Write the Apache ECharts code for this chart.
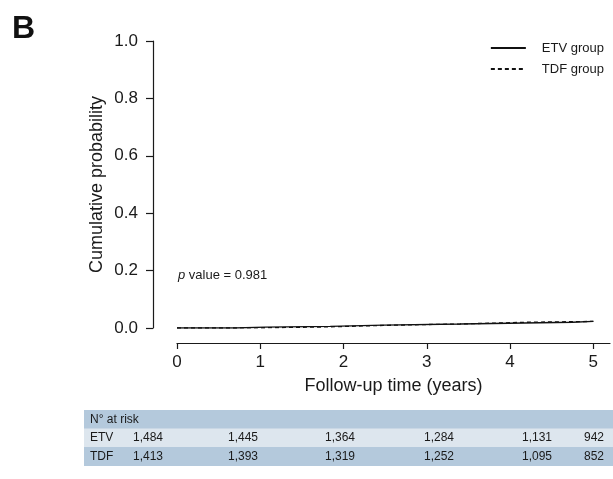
<!DOCTYPE html>
<html>
<head>
<meta charset="utf-8">
<script src="https://cdn.jsdelivr.net/npm/echarts@6/dist/echarts.min.js"></script>
<style>
  html, body { margin: 0; padding: 0; background: #fff; }
  #chart { width: 613px; height: 479px; }
</style>
</head>
<body>
<div id="chart"></div>
<script>
// Kaplan-Meier style cumulative incidence, ETV vs TDF
const yearTicks = [0, 1, 2, 3, 4, 5];
const probTicks = [0, 0.2, 0.4, 0.6, 0.8, 1.0];

const etvTime = [0, 0.70, 1.06, 1.84, 2.48, 3.40, 4.75, 5.0];
const etvCum  = [0, 0.003, 0.006, 0.010, 0.014, 0.020, 0.023, 0.023];

const tdfTime = [0, 0.72, 1.10, 1.84, 2.48, 3.00, 3.40, 4.20, 5.0];
const tdfCum  = [0, 0.001, 0.004, 0.009, 0.012, 0.014, 0.020, 0.023, 0.023];

const seriesNames = ['ETV group', 'TDF group'];
const pValueText = '0.981';

// Numbers at risk table
const riskHeader = 'N° at risk';
const riskRowLabels = ['ETV', 'TDF'];
const riskETV = [1484, 1445, 1364, 1284, 1131, 942];
const riskTDF = [1413, 1393, 1319, 1252, 1095, 852];

const FONT = 'Liberation Sans, Arial, Helvetica, sans-serif';
const INK = '#1a1a1a';

const chart = echarts.init(document.getElementById('chart'), null, { renderer: 'canvas' });

const toPairs = (ts, vs) => ts.map((t, i) => [t, vs[i]]);
const fmt = n => n.toLocaleString('en-US');

// table graphics
const tableLeft = 84, tableRight = 613, rowTop = 410, rowH = 18.5;
const rowFills = ['#b4c9dc', '#dde6ee', '#b4c9dc'];
const colX = [133, 228, 325, 424, 522, 604];
const tableGraphics = [];
rowFills.forEach((c, r) => {
  tableGraphics.push({
    type: 'rect', silent: true,
    shape: { x: tableLeft, y: rowTop + r * rowH, width: tableRight - tableLeft, height: rowH + 0.5 },
    style: { fill: c }
  });
});
const cellText = (txt, x, y, align) => ({
  type: 'text', silent: true, x: x, y: y,
  style: { text: txt, font: '12px ' + FONT, fill: INK, align: align || 'left', verticalAlign: 'middle' }
});
tableGraphics.push(cellText(riskHeader, 90, rowTop + rowH / 2));
[riskETV, riskTDF].forEach((vals, r) => {
  const yc = rowTop + (r + 1) * rowH + rowH / 2;
  tableGraphics.push(cellText(riskRowLabels[r], 90, yc));
  vals.forEach((v, i) => {
    const last = i === vals.length - 1;
    tableGraphics.push(cellText(fmt(v), colX[i], yc, last ? 'right' : 'left'));
  });
});

const axisLineStyle = { color: INK, width: 1.2 };

chart.setOption({
  backgroundColor: '#fff',
  animation: false,
  title: {
    text: 'B', left: 12, top: 13, padding: 0,
    textStyle: { fontFamily: FONT, fontSize: 32, fontWeight: 'bold', color: '#111' }
  },
  legend: {
    orient: 'vertical', right: 9, top: 41, padding: 0,
    itemWidth: 35, itemHeight: 14, itemGap: 7,
    align: 'left',
    itemStyle: { opacity: 0 },
    textStyle: { fontFamily: FONT, fontSize: 13, lineHeight: 14, color: INK, padding: [0, 0, 0, 11] },
    data: seriesNames
  },
  grid: { left: 177, right: 3, top: 41, bottom: 151, containLabel: false },
  xAxis: {
    type: 'value', min: 0, max: 5.2, offset: 15,
    axisLine: { show: true, onZero: false, lineStyle: axisLineStyle },
    axisTick: { show: true, customValues: yearTicks, length: 6, lineStyle: axisLineStyle },
    axisLabel: { customValues: yearTicks, fontFamily: FONT, fontSize: 17, color: INK, margin: 11 },
    splitLine: { show: false },
    name: 'Follow-up time (years)', nameLocation: 'middle', nameGap: 34,
    nameTextStyle: { fontFamily: FONT, fontSize: 18, color: INK }
  },
  yAxis: {
    type: 'value', min: 0, max: 1, interval: 0.2, offset: 24,
    axisLine: { show: true, onZero: false, lineStyle: axisLineStyle },
    axisTick: { show: true, length: 7, lineStyle: axisLineStyle },
    axisLabel: { formatter: v => v.toFixed(1), fontFamily: FONT, fontSize: 17, color: INK, margin: 15 },
    splitLine: { show: false },
    name: 'Cumulative probability', nameLocation: 'middle', nameGap: 47,
    nameMoveOverlap: false,
    nameTextStyle: { fontFamily: FONT, fontSize: 18, color: INK }
  },
  series: [
    {
      name: seriesNames[0], type: 'line', step: 'end', symbol: 'none',
      data: toPairs(etvTime, etvCum),
      lineStyle: { color: '#111', width: 1.3, type: 'solid' },
      itemStyle: { color: '#111' }, z: 3
    },
    {
      name: seriesNames[1], type: 'line', step: 'end', symbol: 'none',
      data: toPairs(tdfTime, tdfCum),
      lineStyle: { color: '#111', width: 1.3, type: [4, 3] },
      itemStyle: { color: '#111' }, z: 2
    }
  ],
  graphic: [
    {
      type: 'text', silent: true, x: 178, y: 275,
      style: {
        text: '{i|p} value = ' + pValueText,
        font: '13px ' + FONT, fill: INK, verticalAlign: 'middle',
        rich: { i: { fontStyle: 'italic', fontSize: 13, fontFamily: FONT, fill: INK } }
      }
    }
  ].concat(tableGraphics)
});
</script>
</body>
</html>
